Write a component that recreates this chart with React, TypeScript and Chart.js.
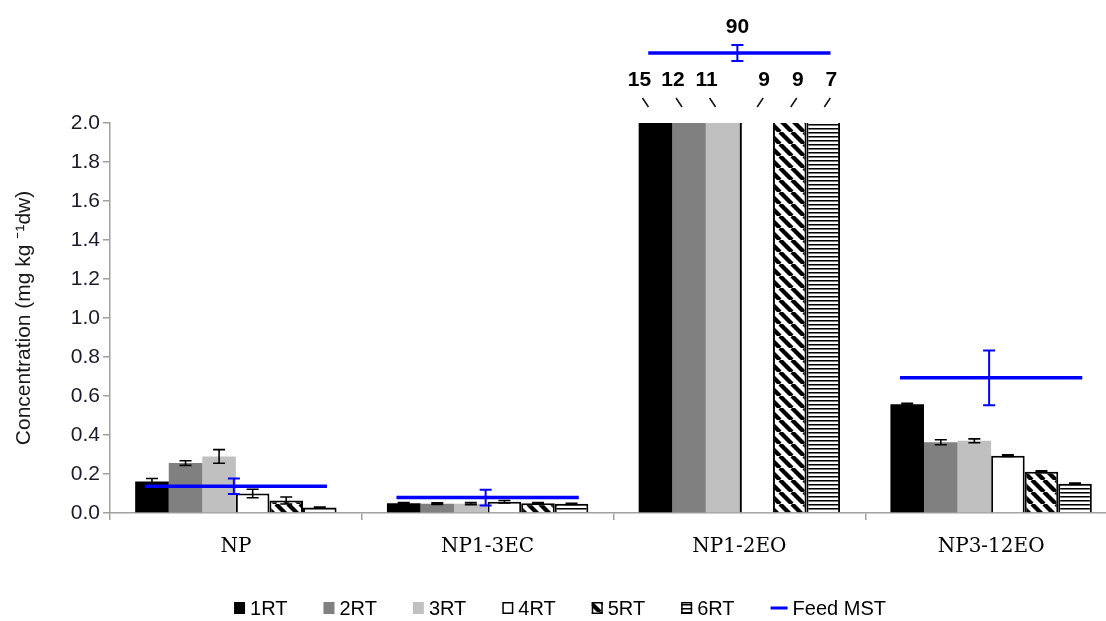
import React, { useEffect, useRef } from 'react';
import { Chart, registerables } from 'chart.js';

Chart.register(...registerables);

// ---- data ----
const categories = ['NP', 'NP1-3EC', 'NP1-2EO', 'NP3-12EO'];
const seriesNames = ['1RT', '2RT', '3RT', '4RT', '5RT', '6RT'];

const rt1 = [0.162, 0.05, 15, 0.558];
const rt2 = [0.256, 0.048, 12, 0.363];
const rt3 = [0.29, 0.048, 11, 0.37];
const rt4 = [0.1, 0.058, 9, 0.294];
const rt5 = [0.064, 0.05, 9, 0.212];
const rt6 = [0.028, 0.047, 7, 0.15];

const err1 = [0.015, 0.004, 0, 0.005];
const err2 = [0.012, 0.004, 0, 0.013];
const err3 = [0.035, 0.005, 0, 0.01];
const err4 = [0.022, 0.006, 0, 0.004];
const err5 = [0.018, 0.004, 0, 0.004];
const err6 = [0.003, 0.003, 0, 0.004];

const feedLabel = 'Feed MST';
const feedMST = [0.137, 0.079, 90, 0.693];
const feedErr = [0.04, 0.04, 4, 0.14];

const yMin = 0;
const yMax = 2.0;
const yStep = 0.2;

const barSeries = [rt1, rt2, rt3, rt4, rt5, rt6];
const barErrors = [err1, err2, err3, err4, err5, err6];

function makeDiagPattern(): CanvasPattern | string {
  const c = document.createElement('canvas');
  c.width = 12;
  c.height = 12;
  const g = c.getContext('2d');
  if (!g) return '#000';
  g.fillStyle = '#ffffff';
  g.fillRect(0, 0, 12, 12);
  g.strokeStyle = '#000000';
  g.lineWidth = 4.3;
  for (const o of [-12, 0, 12]) {
    g.beginPath();
    g.moveTo(o, 0);
    g.lineTo(o + 12, 12);
    g.stroke();
  }
  return g.createPattern(c, 'repeat') || '#000';
}

function makeHStripePattern(): CanvasPattern | string {
  const c = document.createElement('canvas');
  c.width = 4;
  c.height = 4;
  const g = c.getContext('2d');
  if (!g) return '#000';
  g.fillStyle = '#ffffff';
  g.fillRect(0, 0, 4, 4);
  g.fillStyle = '#000000';
  g.fillRect(0, 0, 4, 1);
  g.fillStyle = '#777777';
  g.fillRect(0, 1, 4, 1);
  return g.createPattern(c, 'repeat') || '#000';
}

const annotPlugin = {
  id: 'annot',
  afterDatasetsDraw(chart: any) {
    const { ctx, chartArea, scales } = chart;
    const xS = scales.x;
    const yS = scales.y;
    const top = chartArea.top;
    ctx.save();
    // bar error bars and broken-bar labels
    barSeries.forEach((vals, di) => {
      const meta = chart.getDatasetMeta(di);
      meta.data.forEach((el: any, i: number) => {
        const v = vals[i];
        const e = barErrors[di][i];
        const x = el.x;
        if (v > yS.max) {
          const lean = di < 3 ? -1 : 1;
          ctx.strokeStyle = '#111';
          ctx.lineWidth = 1.5;
          ctx.beginPath();
          if (lean < 0) {
            ctx.moveTo(x - 3 - 10, top - 25);
            ctx.lineTo(x + 3 - 10, top - 16);
          } else {
            ctx.moveTo(x - 3 + 4, top - 16);
            ctx.lineTo(x + 3 + 4, top - 25);
          }
          ctx.stroke();
          ctx.fillStyle = '#000';
          ctx.font = 'bold 21px "Liberation Sans", Arial, sans-serif';
          ctx.textAlign = 'center';
          ctx.textBaseline = 'middle';
          ctx.fillText(String(v), x + (lean < 0 ? -16 : 8), top - 43);
          return;
        }
        if (!e) return;
        const yt = yS.getPixelForValue(v + e);
        const yb = yS.getPixelForValue(Math.max(0, v - e));
        ctx.strokeStyle = '#000';
        ctx.lineWidth = 1.6;
        ctx.beginPath();
        ctx.moveTo(x, yt);
        ctx.lineTo(x, yb);
        ctx.moveTo(x - 6, yt);
        ctx.lineTo(x + 6, yt);
        ctx.moveTo(x - 6, yb);
        ctx.lineTo(x + 6, yb);
        ctx.stroke();
      });
    });
    // feed MST lines
    const catW = xS.getPixelForValue(1) - xS.getPixelForValue(0);
    const half = catW * 0.362;
    feedMST.forEach((v, i) => {
      const cx = xS.getPixelForValue(i);
      let y: number, yt: number, yb: number;
      if (v > yS.max) {
        y = top - 70;
        yt = y - 8;
        yb = y + 8;
        ctx.fillStyle = '#000';
        ctx.font = 'bold 21px "Liberation Sans", Arial, sans-serif';
        ctx.textAlign = 'center';
        ctx.textBaseline = 'middle';
        ctx.fillText(String(v), cx - 2, top - 96);
      } else {
        y = yS.getPixelForValue(v);
        yt = yS.getPixelForValue(v + feedErr[i]);
        yb = yS.getPixelForValue(Math.max(0, v - feedErr[i]));
      }
      ctx.strokeStyle = '#0000ff';
      ctx.lineWidth = 3.5;
      ctx.beginPath();
      ctx.moveTo(cx - half, y);
      ctx.lineTo(cx + half, y);
      ctx.stroke();
      ctx.lineWidth = 2;
      ctx.beginPath();
      ctx.moveTo(cx - 2, yt);
      ctx.lineTo(cx - 2, yb);
      ctx.moveTo(cx - 8, yt);
      ctx.lineTo(cx + 4, yt);
      ctx.moveTo(cx - 8, yb);
      ctx.lineTo(cx + 4, yb);
      ctx.stroke();
    });
    ctx.restore();
  },
};

const legendPlugin = {
  id: 'customLegend',
  afterDraw(chart: any) {
    const ctx = chart.ctx;
    ctx.save();
    ctx.font = '20px "Liberation Sans", Arial, sans-serif';
    ctx.textBaseline = 'middle';
    ctx.textAlign = 'left';
    const dsets = chart.data.datasets;
    const boxW = 11;
    const boxH = 12;
    const lineLen = 17;
    const gapText = 5;
    const itemGap = 36;
    const widths = dsets.map((ds: any) => {
      const mw = ds.type === 'line' ? lineLen : boxW;
      return mw + gapText + ctx.measureText(ds.label).width;
    });
    const total = widths.reduce((a: number, b: number) => a + b, 0) + itemGap * (dsets.length - 1);
    let x = 560 - total / 2;
    const y = chart.height - 13;
    dsets.forEach((ds: any, i: number) => {
      if (ds.type === 'line') {
        ctx.strokeStyle = ds.borderColor;
        ctx.lineWidth = 3;
        ctx.beginPath();
        ctx.moveTo(x, y);
        ctx.lineTo(x + lineLen, y);
        ctx.stroke();
        ctx.fillStyle = '#000';
        ctx.fillText(ds.label, x + lineLen + gapText, y + 1);
      } else {
        ctx.fillStyle = ds.backgroundColor;
        ctx.fillRect(x, y - boxH / 2, boxW, boxH);
        if (ds.legendBorder) {
          ctx.strokeStyle = '#000';
          ctx.lineWidth = 1.5;
          ctx.strokeRect(x + 0.75, y - boxH / 2 + 0.75, boxW - 1.5, boxH - 1.5);
        }
        ctx.fillStyle = '#000';
        ctx.fillText(ds.label, x + boxW + gapText, y + 1);
      }
      x += widths[i] + itemGap;
    });
    ctx.restore();
  },
};

export default function App() {
  const ref = useRef<HTMLCanvasElement | null>(null);

  useEffect(() => {
    if (!ref.current) return;
    const canvasW = 1140;
    const fills: any[] = ['#000000', '#808080', '#c0c0c0', '#ffffff', makeDiagPattern(), makeHStripePattern()];
    const bordered = [false, false, false, true, true, true];

    const datasets: any[] = barSeries.map((vals, di) => ({
      type: 'bar',
      label: seriesNames[di],
      data: vals,
      backgroundColor: fills[di],
      borderColor: '#000000',
      legendBorder: bordered[di],
      borderWidth: bordered[di]
        ? (c: any) =>
            vals[c.dataIndex] > yMax && di === 3
              ? { left: 2.5, top: 0, right: 0, bottom: 0 }
              : vals[c.dataIndex] > yMax
              ? { left: 2, right: 2, top: 0, bottom: 0 }
              : 2
        : 0,
      borderSkipped: 'start',
      categoryPercentage: 0.8,
      barPercentage: 1.0,
    }));
    datasets.push({
      type: 'line',
      label: feedLabel,
      data: feedMST,
      borderColor: '#0000ff',
      backgroundColor: '#0000ff',
      showLine: false,
      pointRadius: 0,
      pointHoverRadius: 0,
    });

    const chart = new Chart(ref.current, {
      type: 'bar',
      data: { labels: categories, datasets },
      options: {
        responsive: false,
        animation: false,
        events: [],
        layout: { padding: { top: 123, left: 0, right: canvasW - 1117, bottom: 0 } },
        plugins: {
          legend: { display: false },
          tooltip: { enabled: false },
        },
        scales: {
          x: {
            grid: { offset: true, drawOnChartArea: false, drawTicks: true, tickLength: 7, color: '#a0a0a0', lineWidth: 1.5 },
            border: { display: true, color: '#a0a0a0', width: 1.5 },
            ticks: {
              color: '#000',
              padding: 15,
              font: { family: '"DejaVu Serif", "Liberation Serif", serif', size: 20 },
              maxRotation: 0,
            },
            afterFit: (s: any) => {
              s.height = 108;
            },
          },
          y: {
            min: yMin,
            max: yMax,
            grid: { drawOnChartArea: false, drawTicks: true, tickLength: 7, color: '#a0a0a0', lineWidth: 1.5 },
            border: { display: true, color: '#a0a0a0', width: 1.5 },
            ticks: {
              stepSize: yStep,
              color: '#1a1a2a',
              padding: 3,
              font: { family: '"Liberation Sans", Arial, sans-serif', size: 21 },
              callback: (v: any) => Number(v).toFixed(1),
            },
            title: {
              display: true,
              text: 'Concentration (mg kg ⁻¹dw)',
              color: '#1a1a1a',
              font: { family: '"Liberation Sans", Arial, sans-serif', size: 21 },
              padding: { top: 12, bottom: 0 },
            },
            afterFit: (s: any) => {
              s.width = 110;
            },
          },
        },
      },
      plugins: [annotPlugin, legendPlugin],
    } as any);

    return () => chart.destroy();
  }, []);

  return (
    <div
      style={{
        position: 'fixed',
        left: 0,
        top: 0,
        width: 1106,
        height: 621,
        overflow: 'hidden',
        background: '#ffffff',
      }}
    >
      <canvas ref={ref} width={1140} height={621} style={{ display: 'block' }} />
    </div>
  );
}
